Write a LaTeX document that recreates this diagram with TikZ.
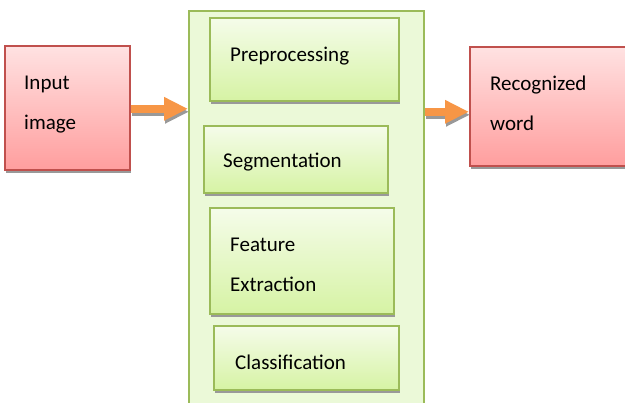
\documentclass[tikz,border=0pt]{standalone}
\usepackage{fontspec}
\setmainfont{Carlito}
\usetikzlibrary{arrows.meta}
\definecolor{redline}{HTML}{C0504D}
\definecolor{redtop}{HTML}{FFE2E2}
\definecolor{redbot}{HTML}{FF9E9E}
\definecolor{greenline}{HTML}{9BBB59}
\definecolor{greentop}{HTML}{F5FCEA}
\definecolor{greenbot}{HTML}{D6F3A4}
\definecolor{panelfill}{HTML}{EBF9D8}
\definecolor{arroworange}{HTML}{F79646}
\definecolor{shadowgray}{HTML}{999999}
\tikzset{
  box/.style={rectangle, minimum width=#1, inner sep=0pt, anchor=north west, line width=1.6pt},
  redbox/.style={box=#1, draw=redline, top color=redtop, bottom color=redbot},
  greenbox/.style={box=#1, draw=greenline, top color=greentop, bottom color=greenbot},
  shade/.style={fill=shadowgray, draw=none},
  label/.style={anchor=base west, inner sep=0pt, font=\fontsize{21}{24}\selectfont},
  flow/.style={line width=8pt, arroworange, -{Triangle[length=24pt, width=22pt]}},
  flowshadow/.style={line width=8pt, shadowgray, -{Triangle[length=24pt, width=22pt]}},
}
\begin{document}
\begin{tikzpicture}[x=1pt, y=-1pt]
\useasboundingbox (0,0) rectangle (625,403);

% outer panel holding the processing stages
\node[box=235pt, minimum height=410pt, draw=greenline, fill=panelfill] (panel) at (188,10) {};

% drop shadows under the boxes
\fill[shade] (6,169) rectangle (131,173);
\fill[shade] (471,165) rectangle (625,169);
\fill[shade] (211,100) rectangle (400,104);
\fill[shade] (205,192) rectangle (389,196);
\fill[shade] (211,313) rectangle (395,317);
\fill[shade] (215,389) rectangle (400,393);

% input and output boxes
\node[redbox=125pt, minimum height=124pt] (input) at (4,45) {};
\node[redbox=170pt, minimum height=119pt] (output) at (469,46) {};

% processing stages
\node[greenbox=189pt, minimum height=83pt] (pre) at (209,17) {};
\node[greenbox=184pt, minimum height=67pt] (seg) at (203,125) {};
\node[greenbox=184pt, minimum height=106pt] (feat) at (209,207) {};
\node[greenbox=185pt, minimum height=64pt] (cls) at (213,325) {};

% labels
\node[label] (tin1) at (24,90) {Input};
\node[label] (tin2) at (24,130) {image};
\node[label] (tout1) at (490,91) {Recognized};
\node[label] (tout2) at (490,131) {word};
\node[label] (tpre) at (230,62) {Preprocessing};
\node[label] (tseg) at (223,168) {Segmentation};
\node[label] (tfeat1) at (230,252) {Feature};
\node[label] (tfeat2) at (230,292) {Extraction};
\node[label] (tcls) at (235,370) {Classification};

% connectors with their shadows
\coordinate (a1) at ([yshift=-1pt]input.east);
\coordinate (a2) at (a1 -| panel.west);
\coordinate (b1) at ([yshift=-5.5pt]output.west -| panel.east);
\coordinate (b2) at ([yshift=-5.5pt]output.west);
\draw[flowshadow] ([shift={(1pt,-3pt)}]a1) -- ([shift={(1pt,-3pt)}]a2);
\draw[flowshadow] ([shift={(1pt,-3pt)}]b1) -- ([shift={(1pt,-3pt)}]b2);
\draw[flow] (a1) -- (a2);
\draw[flow] (b1) -- (b2);
\end{tikzpicture}
\end{document}
